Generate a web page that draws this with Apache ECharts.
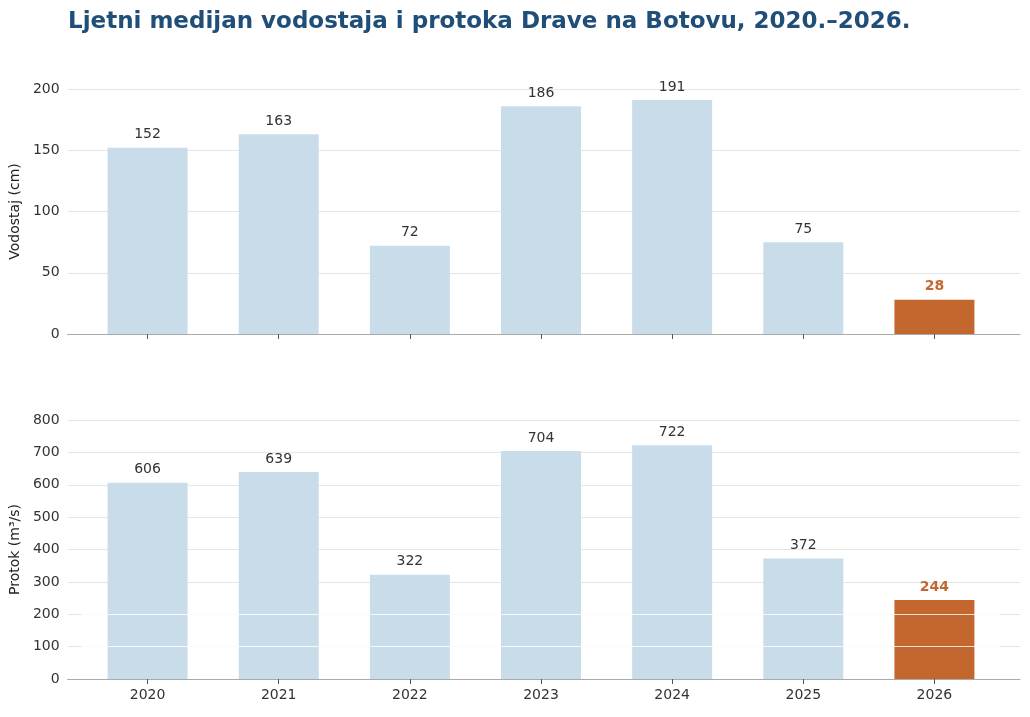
<!DOCTYPE html>
<html>
<head>
<meta charset="utf-8">
<script src="https://cdn.jsdelivr.net/npm/echarts@6/dist/echarts.min.js"></script>
<style>
  html, body { margin: 0; padding: 0; background: #fff; }
  #main { width: 1030px; height: 717px; }
</style>
</head>
<body>
<div id="main"></div>
<script>
const years = ['2020', '2021', '2022', '2023', '2024', '2025', '2026']
const vodostaj = [152, 163, 72, 186, 191, 75, 28]
const protok = [606, 639, 322, 704, 722, 372, 244]

const blue = '#c9dcea'
const orange = '#c4672e'
const font = 'DejaVu Sans'

function barData (values) {
  return values.map((v, i) => {
    const last = i === values.length - 1
    return {
      value: v,
      itemStyle: { color: last ? orange : blue },
      label: last ? { color: orange, fontWeight: 'bold' } : {}
    }
  })
}

// background grids (0,1) carry the gridlines, y labels and the long axis line
// bar grids (2,3) are narrower so the categories sit inside with padding
function bgYAxis (idx, name, max, interval) {
  return {
    gridIndex: idx, type: 'value', min: 0, max: max, interval: interval,
    name: name, nameLocation: 'middle', nameGap: 42,
    nameTextStyle: { color: '#222', fontSize: 14, fontFamily: font },
    axisLine: { show: false }, axisTick: { show: false },
    axisLabel: { color: '#333', fontSize: 14, fontFamily: font },
    splitLine: { lineStyle: { color: '#e6e6e6' } }
  }
}

function barYAxis (idx, max, interval) {
  return {
    gridIndex: idx, type: 'value', min: 0, max: max, interval: interval,
    axisLine: { show: false }, axisTick: { show: false },
    axisLabel: { show: false }, splitLine: { show: false }
  }
}

function bgXAxis (idx) {
  return {
    gridIndex: idx, type: 'category', data: [''],
    axisLine: { lineStyle: { color: '#aaa' } },
    axisTick: { show: false }, axisLabel: { show: false }
  }
}

function barXAxis (idx, showLabels) {
  return {
    gridIndex: idx, type: 'category', data: years,
    axisLine: { show: false },
    axisTick: { show: true, alignWithLabel: true, length: 5, lineStyle: { color: '#555' } },
    axisLabel: { show: showLabels, color: '#333', fontSize: 14, fontFamily: font, margin: 9 }
  }
}

const labelStyle = { show: true, position: 'top', color: '#333', fontSize: 14, fontFamily: font, distance: 6 }

const myChart = echarts.init(document.getElementById('main'))
myChart.setOption({
  animation: false,
  title: {
    text: 'Ljetni medijan vodostaja i protoka Drave na Botovu, 2020.–2026.',
    left: 63,
    top: 6,
    textStyle: { color: '#1f4e79', fontSize: 23, fontWeight: 'bold', fontFamily: font }
  },
  grid: [
    { left: 65, right: 10, top: 89, height: 245 },
    { left: 65, right: 10, top: 420, height: 259 },
    { left: 82, right: 30, top: 89, height: 245 },
    { left: 82, right: 30, top: 420, height: 259 }
  ],
  xAxis: [bgXAxis(0), bgXAxis(1), barXAxis(2, false), barXAxis(3, true)],
  yAxis: [
    bgYAxis(0, 'Vodostaj (cm)', 200, 50),
    bgYAxis(1, 'Protok (m³/s)', 800, 100),
    barYAxis(2, 200, 50),
    barYAxis(3, 800, 100)
  ],
  series: [
    {
      type: 'bar', xAxisIndex: 2, yAxisIndex: 2, barWidth: 80,
      data: barData(vodostaj), label: labelStyle
    },
    {
      type: 'bar', xAxisIndex: 3, yAxisIndex: 3, barWidth: 80,
      data: barData(protok), label: labelStyle,
      markLine: {
        silent: true, symbol: 'none', label: { show: false },
        lineStyle: { color: '#ffffff', type: 'solid', width: 1, opacity: 0.8 },
        data: [{ yAxis: 100 }, { yAxis: 200 }]
      }
    }
  ]
})
</script>
</body>
</html>
